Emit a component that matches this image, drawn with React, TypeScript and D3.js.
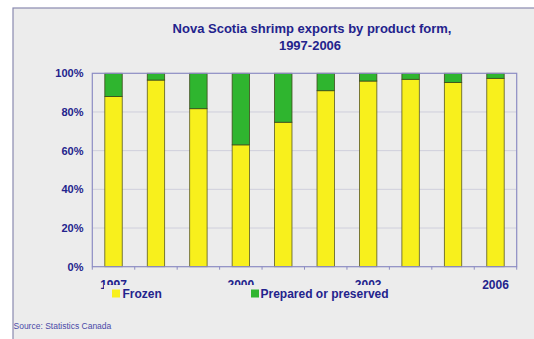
import React from "react";
import * as d3 from "d3";

const years = ["1997", "1998", "1999", "2000", "2001", "2002", "2003", "2004", "2005", "2006"];
const frozen = [88, 96.5, 81.7, 63, 74.7, 91, 96, 96.9, 95.3, 97.4];
const prepared = frozen.map((v) => 100 - v);
const shownYearLabels = ["1997", "2000", "2003", "2006"];
const yTicks = [0, 20, 40, 60, 80, 100];
const seriesNames = ["Frozen", "Prepared or preserved"];

const W = 534;
const H = 339;
const M = { left: 92.3, right: 516.7, top: 73.3, bottom: 266.7 };
const FONT = "Arial, 'Liberation Sans', Helvetica, sans-serif";
const NAVY = "#23238c";
const YELLOW = "#f8f01c";
const GREEN = "#2fb52f";

export default function App() {
  const x = d3.scaleBand<string>().domain(years).range([M.left, M.right]).paddingInner(0.59).paddingOuter(0.295);
  const xb = d3.scaleBand<string>().domain(years).range([M.left, M.right]);
  const y = d3.scaleLinear().domain([0, 100]).range([M.bottom, M.top]);
  const bw = x.bandwidth();

  return (
    <div style={{ position: "absolute", left: 0, top: 0, margin: 0 }}>
      <svg width={W} height={H} style={{ display: "block" }} fontFamily={FONT}>
        <rect x={0} y={0} width={W} height={H} fill="#ffffff" />
        <rect x={13} y={8} width={W + 10} height={H + 10} fill="#ececec" stroke="#8a8ab0" strokeWidth={1.2} />
        <text x={312} y={33} textAnchor="middle" fontSize={13} fontWeight="bold" fill={NAVY}>
          Nova Scotia shrimp exports by product form,
        </text>
        <text x={310} y={50} textAnchor="middle" fontSize={13} fontWeight="bold" fill={NAVY}>
          1997-2006
        </text>
        {yTicks.map((t) => (
          <g key={t}>
            {t > 0 && t < 100 && (
              <line x1={M.left} x2={M.right} y1={y(t)} y2={y(t)} stroke="#cfcfdc" strokeWidth={1} />
            )}
            <text x={83.5} y={y(t) + 4} textAnchor="end" fontSize={11} fontWeight="bold" fill={NAVY}>
              {t}%
            </text>
          </g>
        ))}
        {years.map((yr, i) => (
          <g key={yr}>
            <rect x={x(yr)} y={y(frozen[i])} width={bw} height={M.bottom - y(frozen[i])} fill={YELLOW} stroke="#5a5a20" strokeWidth={0.8} />
            <rect x={x(yr)} y={y(100)} width={bw} height={y(frozen[i]) - y(100)} fill={GREEN} stroke="#3b4a1a" strokeWidth={0.8} />
          </g>
        ))}
        <rect x={M.left} y={M.top} width={M.right - M.left} height={M.bottom - M.top} fill="none" stroke="#8c8cc4" strokeWidth={1.2} />
        {years.map((yr) => (
          <line key={"t" + yr} x1={xb(yr)} x2={xb(yr)} y1={M.bottom} y2={M.bottom + 3} stroke="#8c8cc4" strokeWidth={1} />
        ))}
        <line x1={M.right} x2={M.right} y1={M.bottom} y2={M.bottom + 3} stroke="#8c8cc4" strokeWidth={1} />
        {shownYearLabels.map((yr) => (
          <text key={"l" + yr} x={(x(yr) as number) + bw / 2} y={288.5} textAnchor="middle" fontSize={12} fontWeight="bold" fill={NAVY}>
            {yr}
          </text>
        ))}
        <rect x={104} y={285} width={295} height={16} fill="#ececec" />
        <rect x={112} y={289.5} width={8} height={8} fill={YELLOW} />
        <text x={122.5} y={298} fontSize={12} fontWeight="bold" fill={NAVY}>
          {seriesNames[0]}
        </text>
        <rect x={251} y={289.5} width={8} height={8} fill={GREEN} />
        <text x={260.5} y={298} fontSize={12} fontWeight="bold" fill={NAVY}>
          {seriesNames[1]}
        </text>
        <text x={13.5} y={329} fontSize={8.5} fill="#4a4aa8">
          Source: Statistics Canada
        </text>
      </svg>
    </div>
  );
}
